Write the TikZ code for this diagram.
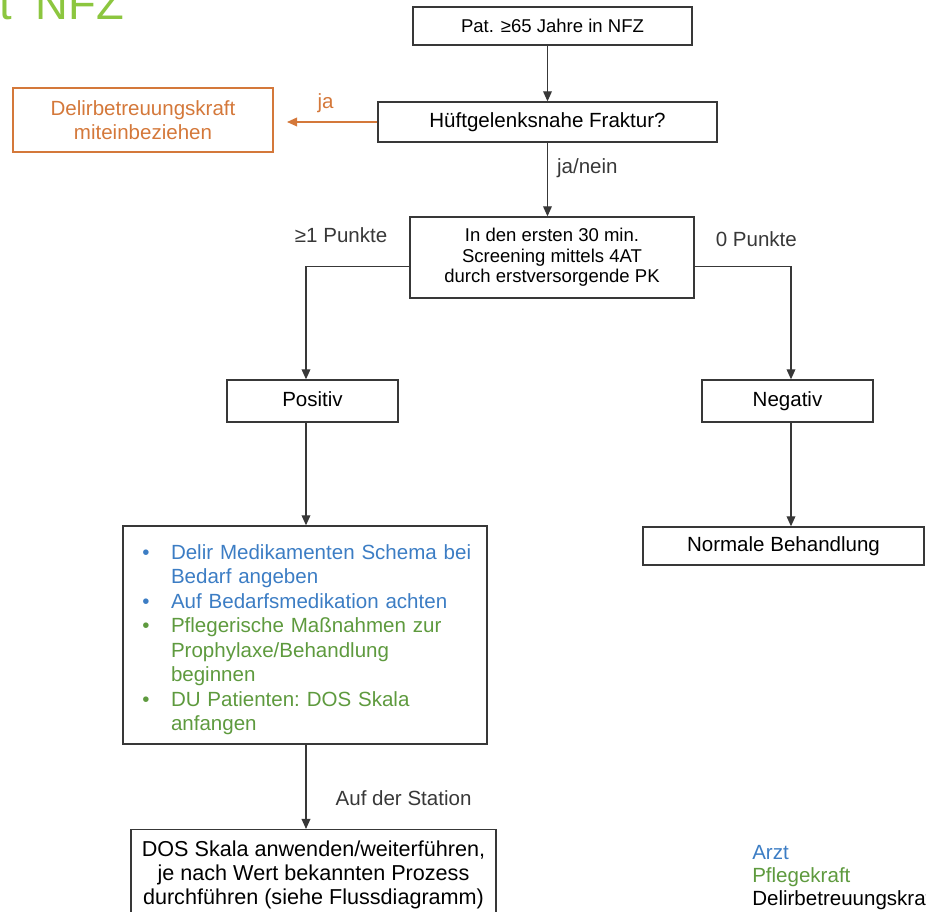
\documentclass[tikz,border=0pt]{standalone}
\usepackage{fontspec}
\setmainfont{Liberation Sans}
\usepackage{enumitem}
\usepackage{tikz}
\usetikzlibrary{arrows.meta, positioning}
\definecolor{arzt}{HTML}{3C7DC4}
\definecolor{pflege}{HTML}{5E9A3E}
\definecolor{delir}{HTML}{D4783A}
\definecolor{titel}{HTML}{8CC63F}
\definecolor{linie}{HTML}{383838}
\newcommand{\punkt}[2]{\item[\textcolor{#1}{\textbullet}]\textcolor{#1}{#2}}

\begin{document}
\begin{tikzpicture}[
    x=0.75pt, y=-0.75pt,
    >={Triangle[length=7.5pt, width=6.5pt]},
    stepbox/.style={draw=linie, line width=1pt, align=center, inner sep=2pt},
    oneline/.style={text height=11pt, text depth=3.2pt},
    big/.style={font=\fontsize{15.4}{18.2}\selectfont},
    small/.style={font=\fontsize{13.9}{15.4}\selectfont},
    flow/.style={->, line width=1pt, linie},
]
    \useasboundingbox (0,0) rectangle (926,912);
    \clip (0,0) rectangle (926,912);

    % Titel (angeschnitten)
    \node[anchor=base west, inner sep=0, text=titel, font=\fontsize{34}{34}\selectfont] (titel) at (-1, 19.5) {t\hspace{0.53em}NFZ};

    % Kopf
    \node[stepbox, small, minimum width=209.25pt, minimum height=28.5pt] (start) at (552.5, 26) {Pat. ≥65 Jahre in NFZ};
    \node[stepbox, big, minimum width=254.25pt, minimum height=30pt] (fraktur) at (547.5, 122) {Hüftgelenksnahe Fraktur?};
    \node[stepbox, big, draw=delir, text=delir, minimum width=195pt, minimum height=48pt] (dbk) at (143, 120) {Delirbetreuungskraft\\miteinbeziehen};
    \node[stepbox, small, minimum width=213pt, minimum height=60.75pt] (screening) at (552, 257.5) {In den ersten 30 min.\\Screening mittels 4AT\\durch erstversorgende PK};

    % Zweige
    \coordinate (ltrunk) at (306, 0);
    \coordinate (rtrunk) at (791, 0);
    \node[stepbox, big, oneline, minimum width=128.25pt, minimum height=31.5pt] (positiv) at (312.5, 401) {Positiv};
    \node[stepbox, big, oneline, minimum width=128.25pt, minimum height=31.5pt] (negativ) at (787.5, 401) {Negativ};

    % Massnahmen
    \node[stepbox, font=\fontsize{15.4}{18.4}\selectfont, align=left, text width=261pt, inner xsep=6pt, minimum height=163.5pt] (massnahmen) at (305, 635) {%
        \frenchspacing
        \begin{itemize}[nosep, leftmargin=30pt, labelsep=16pt]
            \punkt{arzt}{Delir Medikamenten Schema bei\newline Bedarf angeben}
            \punkt{arzt}{Auf Bedarfsmedikation achten}
            \punkt{pflege}{Pflegerische Maßnahmen zur\newline Prophylaxe/Behandlung\newline beginnen}
            \punkt{pflege}{DU Patienten: DOS Skala\newline anfangen}
        \end{itemize}\par\vspace{14pt}};
    \node[stepbox, big, oneline, minimum width=210.75pt, minimum height=28.5pt] (normal) at (783.5, 546) {Normale Behandlung};
    \node[stepbox, font=\fontsize{16.2}{17.8}\selectfont, minimum width=273.75pt, minimum height=68pt] (station) at (313.5, 875) {DOS Skala anwenden/weiterführen,\\je nach Wert bekannten Prozess\\durchführen (siehe Flussdiagramm)};

    % Pfeile
    \draw[flow] (start.south -| fraktur.north) -- (fraktur.north);
    \draw[flow, delir, shorten >=10pt] (fraktur.west) -- node[above=3pt, text=delir, big] (ja) {ja} (fraktur.west -| dbk.east);
    \draw[flow] (fraktur.south) -- node[right=3.4pt, pos=0.35, big] (janein) {ja/nein} (fraktur.south |- screening.north);
    \draw[flow] ([yshift=-7pt]screening.west) -| node[pos=0.33, yshift=24pt, big] (eins) {≥1 Punkte} (ltrunk |- positiv.north);
    \draw[flow] ([yshift=-7pt]screening.east) -| node[pos=0.32, yshift=21pt, big] (null) {0 Punkte} (rtrunk |- negativ.north);
    \draw[flow] (ltrunk |- positiv.south) -- (ltrunk |- massnahmen.north);
    \draw[flow] (rtrunk |- negativ.south) -- (rtrunk |- normal.north);
    \draw[flow] (ltrunk |- massnahmen.south) -- node[right=18.4pt, pos=0.63, big] (auf) {Auf der Station} (ltrunk |- station.north);

    % Legende
    \node[anchor=base west, inner sep=0, big, text=arzt] (larzt) at (752, 860) {Arzt};
    \node[anchor=base west, inner sep=0, big, text=pflege] (lpflege) at (752, 883) {Pflegekraft};
    \node[anchor=base west, inner sep=0, big, text=black] (ldelir) at (752, 906) {Delirbetreuungskraft};
\end{tikzpicture}
\end{document}
